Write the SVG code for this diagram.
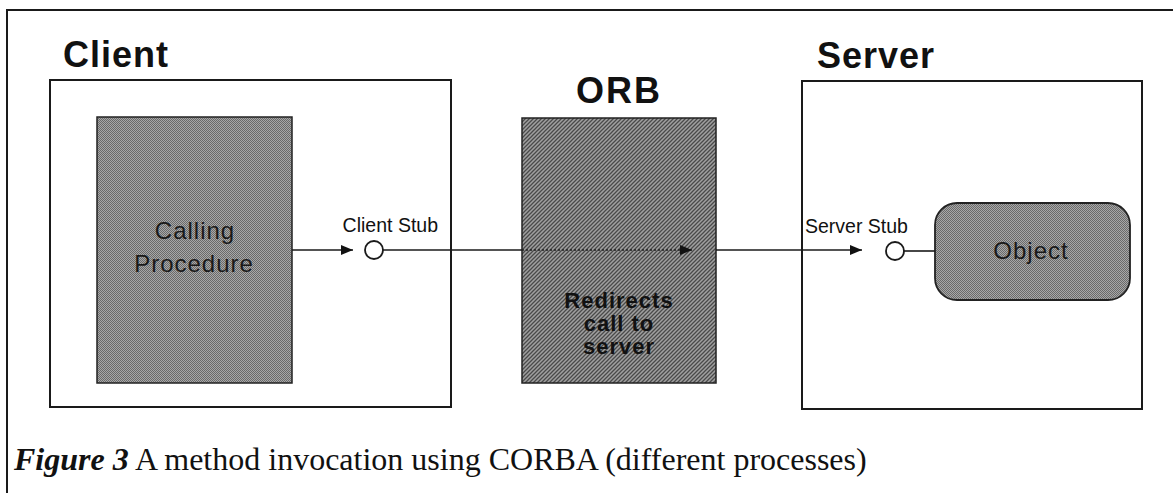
<svg xmlns="http://www.w3.org/2000/svg" width="1173" height="493" viewBox="0 0 1173 493">
  <style>
    .frame { fill: none; stroke: #1a1a1a; stroke-width: 2; }
    .box { fill: #ffffff; stroke: #1a1a1a; stroke-width: 2; }
    .title { font-family: "Liberation Sans", Arial, sans-serif; font-weight: bold; font-size: 36px; fill: #111; letter-spacing: 1px; }
    .inner { font-family: "Liberation Sans", Arial, sans-serif; font-size: 24px; fill: #1a1a1a; letter-spacing: 1px; text-anchor: middle; }
    .stub { font-family: "Liberation Sans", Arial, sans-serif; font-size: 19.5px; fill: #111; }
    .orbtxt { font-family: "Liberation Sans", Arial, sans-serif; font-weight: bold; font-size: 22px; fill: #111; letter-spacing: 1px; text-anchor: middle; }
    .caption { font-family: "Liberation Serif", "Times New Roman", serif; font-size: 32px; fill: #111; }
    .wire { fill: none; stroke: #1a1a1a; stroke-width: 1.6; }
    .dotted { fill: none; stroke: #222; stroke-width: 1.4; stroke-dasharray: 2 2; }
    .stubring { fill: #ffffff; stroke: #1a1a1a; stroke-width: 1.8; }
  </style>
  <defs>
    <!-- fine grey stipple -->
    <pattern id="stipple" width="2" height="2" patternUnits="userSpaceOnUse">
      <rect width="2" height="2" fill="#a8a8a8"/>
      <rect width="1" height="1" fill="#6a6a6a"/>
      <rect x="1" y="1" width="1" height="1" fill="#6a6a6a"/>
    </pattern>
    <!-- diagonal hatch for the ORB -->
    <pattern id="hatch" width="4" height="4" patternUnits="userSpaceOnUse">
      <rect width="4" height="4" fill="#a0a0a0"/>
      <path d="M-1,1 L1,-1 M0,4 L4,0 M3,5 L5,3" stroke="#4a4a4a" stroke-width="1.3"/>
    </pattern>
    <marker id="arrow" viewBox="0 0 12 10" refX="12" refY="5" markerWidth="12" markerHeight="10" markerUnits="userSpaceOnUse" orient="auto">
      <path d="M0,0 L12,5 L0,10 Z" fill="#111"/>
    </marker>
  </defs>

  <rect width="1173" height="493" fill="#ffffff"/>
  <rect class="frame" x="7" y="10" width="1200" height="520"/>

  <g id="client">
    <rect class="box" x="50" y="80" width="401" height="327"/>
    <text class="title" x="63" y="67">Client</text>
  </g>

  <g id="calling-procedure">
    <rect x="97" y="117" width="195" height="266" fill="url(#stipple)" stroke="#222" stroke-width="1.5"/>
    <text class="inner" x="195" y="239">Calling</text>
    <text class="inner" x="194" y="272">Procedure</text>
  </g>

  <g id="orb">
    <rect x="522" y="118" width="194" height="265" fill="url(#hatch)" stroke="#222" stroke-width="1.5"/>
    <text class="title" x="619" y="103" text-anchor="middle" style="letter-spacing:2px">ORB</text>
    <text class="orbtxt" x="619" y="308">Redirects</text>
    <text class="orbtxt" x="619" y="331">call to</text>
    <text class="orbtxt" x="619" y="354">server</text>
  </g>

  <g id="server">
    <rect class="box" x="802" y="81" width="340" height="328"/>
    <text class="title" x="817" y="68">Server</text>
  </g>

  <g id="object">
    <rect x="935" y="203" width="195" height="97" rx="22" ry="22" fill="url(#stipple)" stroke="#222" stroke-width="1.8"/>
    <text class="inner" x="1031" y="259">Object</text>
  </g>

  <g id="connectors">
    <path class="wire" d="M292,250 H353" marker-end="url(#arrow)"/>
    <path class="wire" d="M383,250 H522"/>
    <path class="dotted" d="M522,250 H692" marker-end="url(#arrow)"/>
    <path class="wire" d="M716,250 H862" marker-end="url(#arrow)"/>
    <path class="wire" d="M904,251 H935"/>
  </g>

  <g id="client-stub">
    <circle class="stubring" cx="374" cy="250" r="9"/>
    <text class="stub" x="438" y="232" text-anchor="end">Client Stub</text>
  </g>

  <g id="server-stub">
    <circle class="stubring" cx="895" cy="251" r="9"/>
    <text class="stub" x="805" y="233">Server Stub</text>
  </g>

  <g id="caption">
    <text class="caption" x="14" y="470"><tspan font-weight="bold" font-style="italic">Figure 3</tspan> A method invocation using CORBA (different processes)</text>
  </g>
</svg>
